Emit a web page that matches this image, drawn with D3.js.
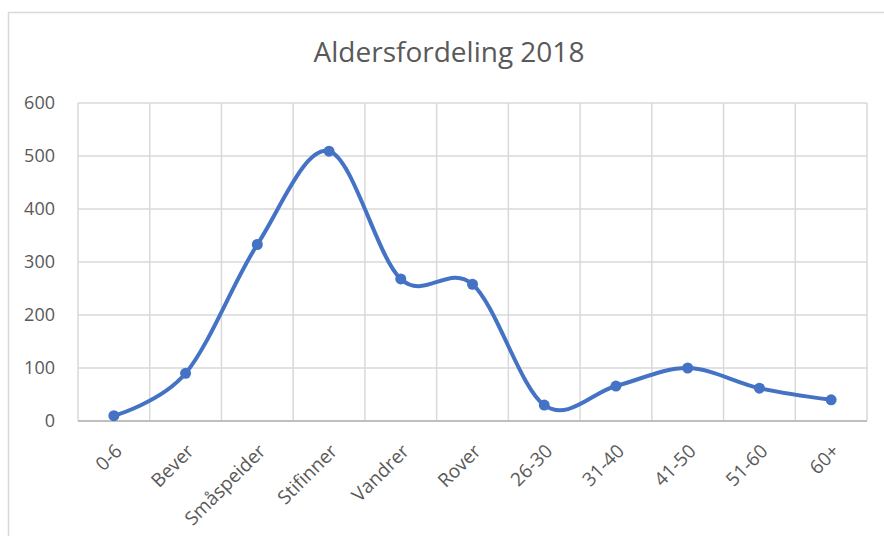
<!DOCTYPE html>
<html>
<head>
<meta charset="utf-8">
<script src="https://cdn.jsdelivr.net/npm/d3@7"></script>
<style>
  body { margin: 0; background: #fff; }
  text { font-family: "Open Sans", "Liberation Sans", sans-serif; fill: #595959; }
</style>
</head>
<body>
<div class="main-line-chart"></div>
<script>
// data
const categories = ["0-6", "Bever", "Småspeider", "Stifinner", "Vandrer", "Rover", "26-30", "31-40", "41-50", "51-60", "60+"];
const values = [10, 90, 333, 509, 268, 258, 30, 66, 100, 62, 40];
const yTicks = [0, 100, 200, 300, 400, 500, 600];
const title = "Aldersfordeling 2018";

const W = 884, H = 536;
const margin = { top: 103, right: 17, bottom: 115, left: 78 };
const width = W - margin.left - margin.right;
const height = H - margin.top - margin.bottom;

const root = d3.select(".main-line-chart").append("svg")
    .attr("width", W)
    .attr("height", H);

// chart frame
root.append("rect")
    .attr("x", 8.5).attr("y", 12.5)
    .attr("width", W + 10).attr("height", H + 10)
    .attr("fill", "none")
    .attr("stroke", "#d9d9d9")
    .attr("stroke-width", 1.5);

root.append("text")
    .attr("x", 449).attr("y", 62)
    .attr("text-anchor", "middle")
    .attr("font-size", 28)
    .text(title);

const svg = root.append("g")
    .attr("transform", `translate(${margin.left}, ${margin.top})`);

const x = d3.scaleBand().domain(categories).range([0, width]);
const y = d3.scaleLinear().domain([0, 600]).range([height, 0]);

// horizontal grid
svg.append("g").selectAll("line")
    .data(yTicks)
    .join("line")
    .attr("x1", 0).attr("x2", width)
    .attr("y1", d => y(d)).attr("y2", d => y(d))
    .attr("stroke", "#d9d9d9")
    .attr("stroke-width", 1.5);

// vertical grid at category borders
const borders = categories.map(c => x(c)).concat([width]);
svg.append("g").selectAll("line")
    .data(borders)
    .join("line")
    .attr("x1", d => d).attr("x2", d => d)
    .attr("y1", 0).attr("y2", height)
    .attr("stroke", "#d9d9d9")
    .attr("stroke-width", 1.5);

// x axis line
svg.append("line")
    .attr("x1", 0).attr("x2", width)
    .attr("y1", height).attr("y2", height)
    .attr("stroke", "#bfbfbf")
    .attr("stroke-width", 2);

// y labels
svg.append("g").selectAll("text")
    .data(yTicks)
    .join("text")
    .attr("x", -23)
    .attr("y", d => y(d))
    .attr("dy", "0.35em")
    .attr("text-anchor", "end")
    .attr("font-size", 18)
    .text(d => d);

// x labels, rotated
svg.append("g").selectAll("text")
    .data(categories)
    .join("text")
    .attr("text-anchor", "end")
    .attr("font-size", 19)
    .attr("transform", d => `translate(${x(d) + x.bandwidth() / 2}, ${height + 22}) rotate(-45)`)
    .attr("dy", "0.7em")
    .text(d => d);

const pts = categories.map((c, i) => ({ cat: c, v: values[i] }));

const valueLine = d3.line()
    .x(d => x(d.cat) + x.bandwidth() / 2)
    .y(d => y(d.v))
    .curve(d3.curveCardinal.tension(0));

svg.append("path")
    .datum(pts)
    .attr("fill", "none")
    .attr("stroke", "#4472c4")
    .attr("stroke-width", 4)
    .attr("stroke-linecap", "round")
    .attr("d", valueLine);

svg.append("g").selectAll("circle")
    .data(pts)
    .join("circle")
    .attr("cx", d => x(d.cat) + x.bandwidth() / 2)
    .attr("cy", d => y(d.v))
    .attr("r", 5.5)
    .attr("fill", "#4472c4");
</script>
</body>
</html>
